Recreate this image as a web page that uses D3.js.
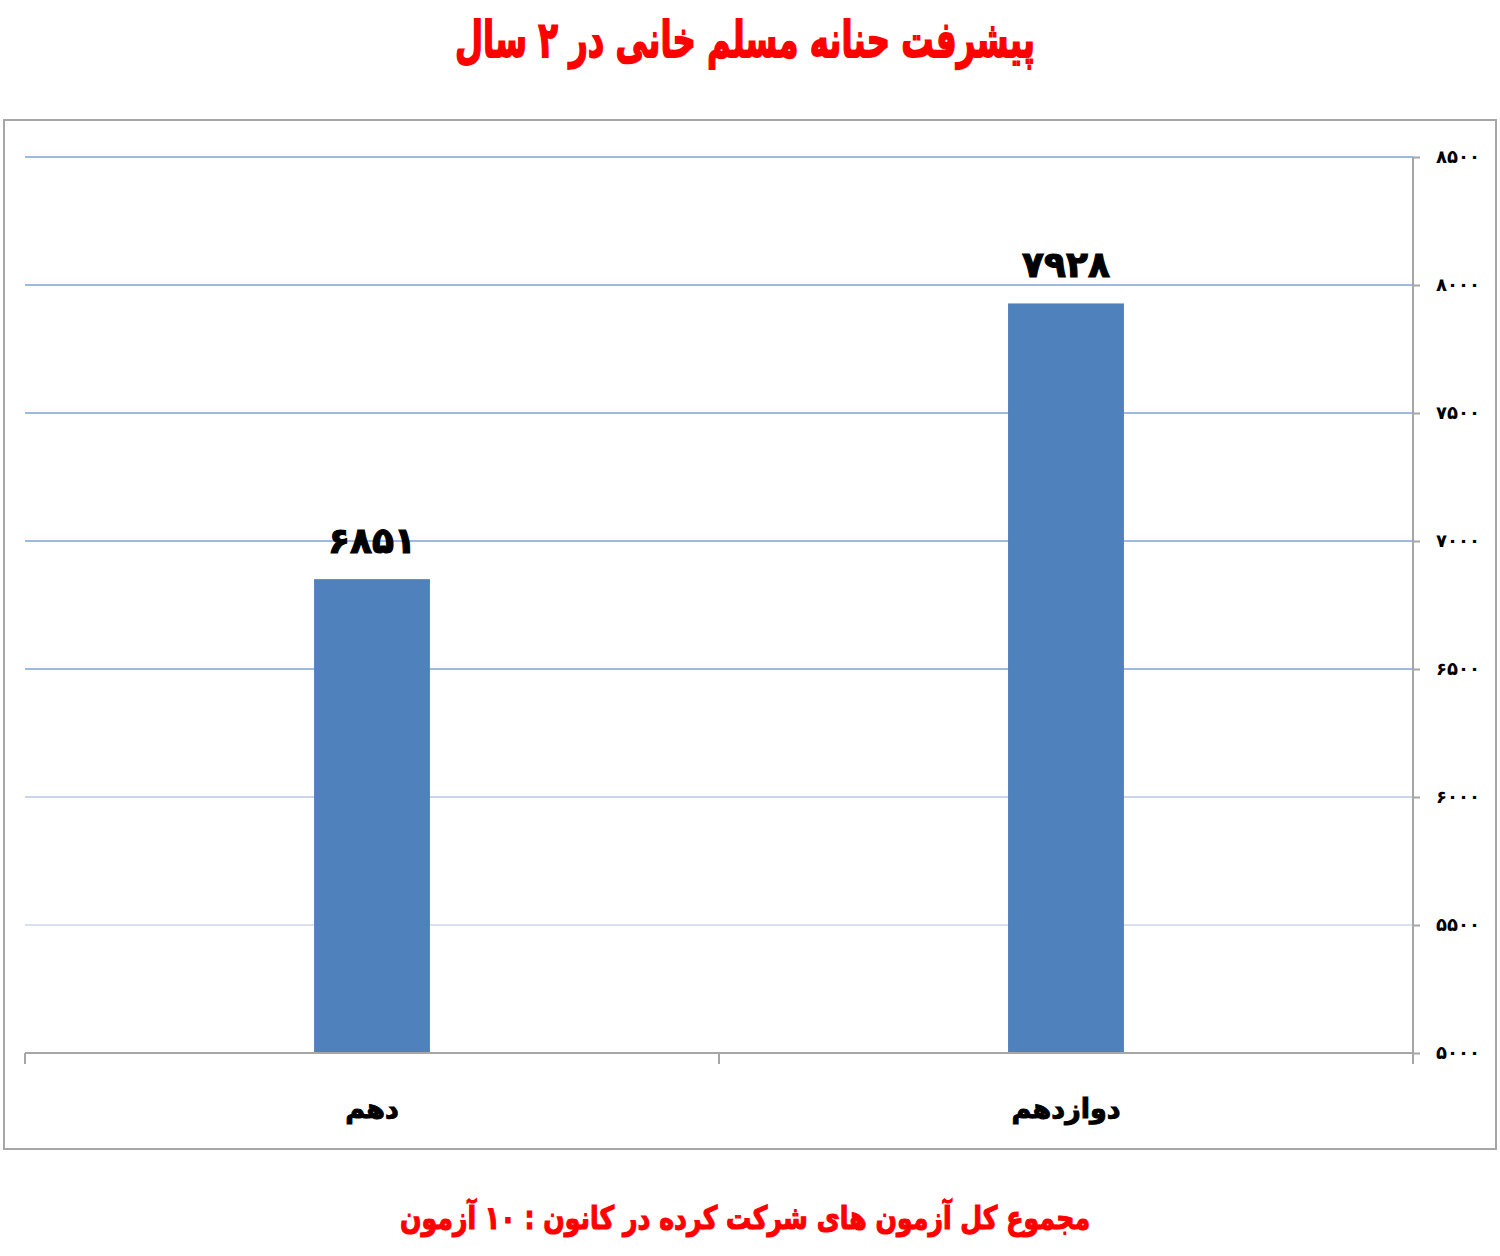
<!DOCTYPE html>
<html lang="fa">
<head>
<meta charset="utf-8">
<script src="https://cdn.jsdelivr.net/npm/d3@7"></script>
<style>
  body { margin: 0; background: #fff; }
  text { font-family: "DejaVu Sans", sans-serif; }
</style>
</head>
<body>
<svg id="chart" width="1500" height="1256"></svg>
<script>
// chart data
const titleText = 'پیشرفت حنانه مسلم خانی در ۲ سال';
const footerText = 'مجموع کل آزمون های شرکت کرده در کانون  :  ۱۰ آزمون';
const categories = ['دهم', 'دوازدهم'];
const values = [6851, 7928];
const yTicks = [5000, 5500, 6000, 6500, 7000, 7500, 8000, 8500];

const faDigits = '۰۱۲۳۴۵۶۷۸۹';
const toFa = n => String(n).replace(/\d/g, d => faDigits[d]);

const svg = d3.select('#chart');
const plotLeft = 25, plotRight = 1413, plotTop = 157, plotBottom = 1053;

// outer frame
svg.append('rect')
  .attr('x', 4).attr('y', 120)
  .attr('width', 1492).attr('height', 1029)
  .attr('fill', 'none')
  .attr('stroke', '#a6a6a6')
  .attr('stroke-width', 2);

// scales
const y = d3.scaleLinear().domain([5000, 8500]).range([plotBottom, plotTop]);
const xCat = d3.scaleBand().domain(categories).range([plotLeft, plotRight]).padding(0);
const x = d3.scaleBand().domain(categories).range([plotLeft, plotRight])
  .paddingInner(0.833).paddingOuter(0.4165);

// gridlines, fading out toward the bottom like the original
const gridColor = d3.scaleLinear().domain([5000, 6000, 6500]).range(['#e6e9f3', '#c9d6ee', '#9cb9e0']).clamp(true);
svg.append('g')
  .selectAll('line')
  .data(yTicks.filter(t => t > 5000))
  .join('line')
  .attr('x1', plotLeft).attr('x2', plotRight)
  .attr('y1', d => y(d)).attr('y2', d => y(d))
  .attr('stroke', d => gridColor(d))
  .attr('stroke-width', 2);

// right value axis
const yAxis = svg.append('g')
  .attr('transform', `translate(${plotRight},0)`)
  .call(d3.axisRight(y).tickValues(yTicks).tickSize(7).tickPadding(16).tickFormat(toFa));
yAxis.select('.domain').attr('stroke', '#a6a6a6').attr('stroke-width', 2).attr('d', `M0,${plotTop}V${plotBottom}`);
yAxis.selectAll('.tick line').attr('stroke', '#a6a6a6').attr('stroke-width', 2);
yAxis.selectAll('.tick text')
  .attr('font-size', 18)
  .attr('font-weight', 'bold')
  .attr('fill', '#000')
  .attr('font-family', '"DejaVu Sans", sans-serif');

// bars
svg.append('g')
  .selectAll('rect')
  .data(values)
  .join('rect')
  .attr('x', (d, i) => x(categories[i]))
  .attr('y', d => y(d))
  .attr('width', x.bandwidth())
  .attr('height', d => y(5000) - y(d))
  .attr('fill', '#4f81bd');

// category axis
const xAxis = svg.append('g');
xAxis.append('line')
  .attr('x1', plotLeft).attr('x2', plotRight)
  .attr('y1', plotBottom).attr('y2', plotBottom)
  .attr('stroke', '#a6a6a6').attr('stroke-width', 2);
const bounds = categories.map(c => xCat(c)).concat([xCat.range()[1]]);
xAxis.selectAll('.bound')
  .data(bounds)
  .join('line')
  .attr('class', 'bound')
  .attr('x1', d => d).attr('x2', d => d)
  .attr('y1', plotBottom).attr('y2', plotBottom + 11)
  .attr('stroke', '#a6a6a6').attr('stroke-width', 2);
xAxis.selectAll('.cat')
  .data(categories)
  .join('text')
  .attr('class', 'cat')
  .attr('x', d => xCat(d) + xCat.bandwidth() / 2)
  .attr('y', 1118)
  .attr('text-anchor', 'middle')
  .attr('direction', 'rtl')
  .attr('font-size', 27)
  .attr('font-weight', 'bold')
  .attr('stroke', '#000')
  .attr('stroke-width', 1)
  .text(d => d);

// value labels
svg.append('g')
  .selectAll('text')
  .data(values)
  .join('text')
  .attr('x', (d, i) => x(categories[i]) + x.bandwidth() / 2)
  .attr('y', d => y(d) - 26)
  .attr('text-anchor', 'middle')
  .attr('font-size', 36)
  .attr('font-weight', 'bold')
  .attr('stroke', '#000')
  .attr('stroke-width', 1.2)
  .text(d => toFa(d));

// title and footer (the original face is narrow and heavy, so squeeze and thicken)
svg.append('text')
  .attr('x', 745).attr('y', 57)
  .attr('text-anchor', 'middle')
  .attr('direction', 'rtl')
  .attr('font-size', 50)
  .attr('font-weight', 'bold')
  .attr('fill', '#ff0000')
  .attr('stroke', '#ff0000')
  .attr('stroke-width', 1.8)
  .attr('textLength', 580)
  .attr('lengthAdjust', 'spacingAndGlyphs')
  .text(titleText);

svg.append('text')
  .attr('x', 745).attr('y', 1229)
  .attr('text-anchor', 'middle')
  .attr('direction', 'rtl')
  .attr('font-size', 32)
  .attr('font-weight', 'bold')
  .attr('fill', '#ff0000')
  .attr('stroke', '#ff0000')
  .attr('stroke-width', 1.2)
  .attr('textLength', 690)
  .attr('lengthAdjust', 'spacingAndGlyphs')
  .text(footerText);
</script>
</body>
</html>
